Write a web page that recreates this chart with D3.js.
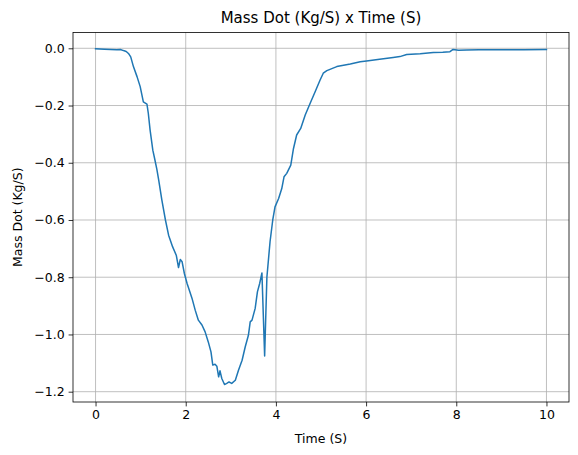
<!DOCTYPE html>
<html>
<head>
<meta charset="utf-8">
<script src="https://cdn.jsdelivr.net/npm/d3@7"></script>
<style>
  html, body { margin: 0; padding: 0; background: #fff; }
  svg { display: block; font-family: "DejaVu Sans", sans-serif; }
</style>
</head>
<body>
<svg id="chart" width="578" height="455"></svg>
<script>
const chartTitle = "Mass Dot (Kg/S) x Time (S)";
const xLabel = "Time (S)";
const yLabel = "Mass Dot (Kg/S)";

const time = [0, 0.2, 0.47, 0.55, 0.62, 0.68, 0.73, 0.78, 0.84, 0.92, 0.99, 1.06, 1.14, 1.17, 1.21, 1.27, 1.31, 1.36, 1.40, 1.47, 1.55, 1.62, 1.71, 1.79, 1.84, 1.88, 1.92, 1.97, 2.03, 2.06, 2.14, 2.21, 2.28, 2.36, 2.43, 2.50, 2.56, 2.60, 2.65, 2.69, 2.73, 2.76, 2.80, 2.86, 2.91, 2.96, 3.02, 3.10, 3.17, 3.25, 3.32, 3.39, 3.43, 3.47, 3.54, 3.59, 3.64, 3.69, 3.75, 3.80, 3.87, 3.93, 3.98, 4.06, 4.13, 4.18, 4.24, 4.33, 4.39, 4.46, 4.55, 4.65, 4.76, 4.87, 4.98, 5.05, 5.13, 5.35, 5.65, 5.87, 6.01, 6.3, 6.6, 6.75, 6.90, 7.2, 7.49, 7.7, 7.86, 7.93, 8.05, 8.23, 8.5, 8.97, 9.5, 10.0];
const massDot = [-0.002, -0.003, -0.005, -0.004, -0.008, -0.011, -0.018, -0.03, -0.064, -0.099, -0.134, -0.187, -0.195, -0.227, -0.286, -0.356, -0.385, -0.423, -0.46, -0.53, -0.60, -0.653, -0.694, -0.723, -0.766, -0.738, -0.746, -0.787, -0.822, -0.836, -0.874, -0.915, -0.95, -0.967, -0.991, -1.026, -1.061, -1.107, -1.104, -1.111, -1.148, -1.127, -1.154, -1.175, -1.171, -1.166, -1.171, -1.16, -1.125, -1.09, -1.043, -1.003, -0.956, -0.95, -0.909, -0.851, -0.822, -0.785, -1.075, -0.80, -0.676, -0.60, -0.554, -0.525, -0.49, -0.449, -0.437, -0.408, -0.35, -0.303, -0.28, -0.233, -0.192, -0.152, -0.111, -0.087, -0.078, -0.064, -0.055, -0.047, -0.044, -0.038, -0.032, -0.029, -0.022, -0.019, -0.015, -0.014, -0.012, -0.004, -0.007, -0.006, -0.005, -0.005, -0.005, -0.004];
const xTicks = [0, 2, 4, 6, 8, 10];
const yTicks = [0.0, -0.2, -0.4, -0.6, -0.8, -1.0, -1.2];

const svg = d3.select("#chart");
const margin = {left: 73, right: 9, top: 32.5, bottom: 53};
const W = 578, H = 455;

const x = d3.scaleLinear().domain([-0.5, 10.5]).range([margin.left, W - margin.right]);
const y = d3.scaleLinear().domain([0.0552, -1.236]).range([margin.top, H - margin.bottom]);

const fmtY = v => (v < 0 ? "\u2212" : "") + Math.abs(v).toFixed(1);

// grid
const g = svg.append("g");
g.selectAll(".gx").data(xTicks).join("line")
  .attr("x1", d => x(d)).attr("x2", d => x(d))
  .attr("y1", margin.top).attr("y2", H - margin.bottom)
  .attr("stroke", "#b0b0b0").attr("stroke-width", 0.8);
g.selectAll(".gy").data(yTicks).join("line")
  .attr("y1", d => y(d)).attr("y2", d => y(d))
  .attr("x1", margin.left).attr("x2", W - margin.right)
  .attr("stroke", "#b0b0b0").attr("stroke-width", 0.8);

// line
const line = d3.line().x((d, i) => x(time[i])).y(d => y(d));
svg.append("path").datum(massDot)
  .attr("d", line)
  .attr("fill", "none").attr("stroke", "#1f77b4")
  .attr("stroke-width", 1.5).attr("stroke-linejoin", "round").attr("stroke-linecap", "square");

// axes
const xAxis = d3.axisBottom(x).tickValues(xTicks).tickFormat(d3.format("d")).tickSize(4.4).tickPadding(4);
const yAxis = d3.axisLeft(y).tickValues(yTicks).tickFormat(fmtY).tickSize(4.4).tickPadding(4);

const gx = svg.append("g").attr("transform", `translate(0,${H - margin.bottom})`).call(xAxis);
const gy = svg.append("g").attr("transform", `translate(${margin.left},0)`).call(yAxis);
[gx, gy].forEach(a => {
  a.select(".domain").remove();
  a.selectAll("line").attr("stroke", "#000").attr("stroke-width", 0.8);
  a.selectAll("text").attr("fill", "#000").style("font-size", "12.5px").style("font-family", "DejaVu Sans");
});

// frame
svg.append("rect")
  .attr("x", margin.left).attr("y", margin.top)
  .attr("width", W - margin.right - margin.left).attr("height", H - margin.bottom - margin.top)
  .attr("fill", "none").attr("stroke", "#000").attr("stroke-width", 0.8);

// labels
svg.append("text").attr("x", (margin.left + W - margin.right) / 2).attr("y", 23)
  .attr("text-anchor", "middle").style("font-size", "15px").text(chartTitle);
svg.append("text").attr("x", (margin.left + W - margin.right) / 2).attr("y", 443)
  .attr("text-anchor", "middle").style("font-size", "12.5px").text(xLabel);
svg.append("text").attr("transform", `translate(22,${(margin.top + H - margin.bottom) / 2}) rotate(-90)`)
  .attr("text-anchor", "middle").style("font-size", "12.5px").text(yLabel);
</script>
</body>
</html>
